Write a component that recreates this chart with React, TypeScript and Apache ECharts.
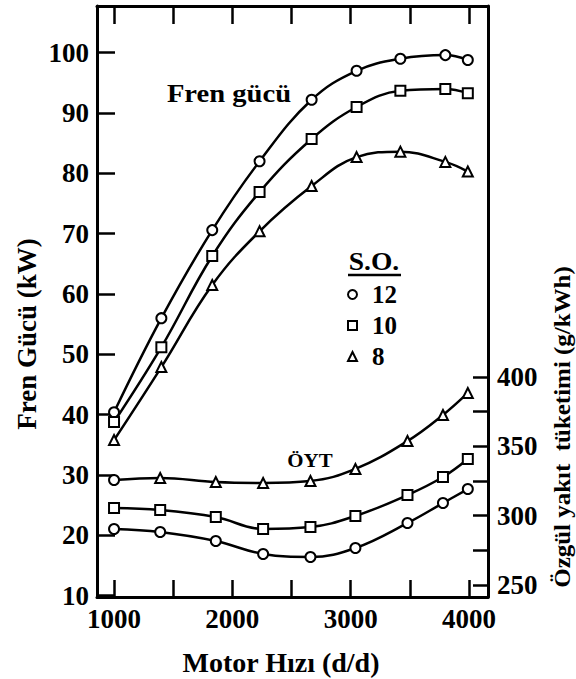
import React, { useEffect, useRef } from "react";
import * as echarts from "echarts";

// Motor speed (d/d) of the measured points
const rpmPower = [1000, 1400, 1830, 2230, 2670, 3050, 3420, 3800, 3990];
// Brake power (kW) for spark advance (S.O.) 12, 10, 8
const power12 = [40.4, 56.0, 70.6, 82.0, 92.2, 97.0, 99.0, 99.6, 98.8];
const power10 = [38.8, 51.2, 66.3, 76.9, 85.7, 91.0, 93.7, 94.0, 93.3];
const power8 = [35.8, 47.9, 61.5, 70.4, 77.9, 82.7, 83.6, 81.9, 80.3];

// Specific fuel consumption (g/kWh)
const rpmSfc = [1000, 1390, 1860, 2260, 2660, 3040, 3480, 3780, 3990];
const sfc8 = [325.7, 327.2, 324.3, 323.6, 325.0, 333.7, 353.8, 372.6, 388.5];
const sfc10 = [305.5, 304.1, 299.0, 290.4, 291.8, 299.8, 314.9, 327.9, 340.9];
const sfc12 = [290.4, 288.2, 281.7, 272.4, 270.2, 276.7, 294.7, 309.1, 319.2];

// Axis ticks / labels
const powerTicks = [10, 20, 30, 40, 50, 60, 70, 80, 90, 100];
const sfcTicks = [250, 275, 300, 325, 350, 375, 400];
const sfcLabels = [250, 300, 350, 400];
const rpmTicks = [1000, 1500, 2000, 2500, 3000, 3500, 4000];
const rpmLabels = [1000, 2000, 3000, 4000];

const legendNames = ["12", "10", "8"];
const legendIcons = ["circle", "rect", "triangle"];

const FONT = "'Liberation Serif', 'Times New Roman', serif";

function lineSeries(name: string, xs: number[], ys: number[], symbol: string, yAxisIndex: number, firstSymbol?: string) {
  return {
    type: "line",
    name,
    xAxisIndex: 0,
    yAxisIndex,
    smooth: 0.4,
    symbol,
    symbolSize: 10,
    lineStyle: { color: "#000", width: 2.5 },
    itemStyle: { color: "#fff", borderColor: "#000", borderWidth: 2 },
    data: xs.map((x, i) =>
      i === 0 && firstSymbol ? { value: [x, ys[i]], symbol: firstSymbol } : [x, ys[i]]
    ),
  };
}

function textEl(text: string, x: number, y: number, size: number, weight: string, extra: any = {}) {
  return {
    type: "text",
    x,
    y,
    ...extra,
    style: {
      text,
      fontFamily: FONT,
      fontWeight: weight,
      fontSize: size,
      fill: "#000",
      align: "center",
      verticalAlign: "middle",
      textAlign: "center",
      textVerticalAlign: "middle",
    },
  };
}

export default function App() {
  const ref = useRef<HTMLDivElement>(null);
  useEffect(() => {
    if (!ref.current) return;
    const chart = echarts.init(ref.current, null, { renderer: "svg" });
    const axisLabelStyle = { fontFamily: FONT, fontWeight: "bold", fontSize: 27, color: "#000", formatter: (v: number) => String(v) };
    const axisLine = { show: true, lineStyle: { color: "#000", width: 3 } };
    const tickStyle = { color: "#000", width: 2.5 };
    chart.setOption({
      animation: false,
      backgroundColor: "#fff",
      grid: { left: 97, right: 88, top: 6, bottom: 82, containLabel: false, outerBoundsMode: "none" },
      xAxis: [
        {
          type: "value",
          position: "bottom",
          min: 856,
          max: 4160.6,
          axisLine,
          axisTick: { show: true, inside: true, length: 17, lineStyle: tickStyle, customValues: rpmTicks },
          axisLabel: { ...axisLabelStyle, margin: 8, customValues: rpmLabels },
          splitLine: { show: false },
        },
        {
          type: "value",
          position: "top",
          min: 856,
          max: 4160.6,
          axisLine,
          axisTick: { show: true, inside: true, length: 18, lineStyle: tickStyle, customValues: rpmTicks },
          axisLabel: { show: false },
          splitLine: { show: false },
        },
      ],
      yAxis: [
        {
          type: "value",
          position: "left",
          min: 9.79,
          max: 107.74,
          axisLine,
          axisTick: { show: true, inside: true, length: 18, lineStyle: tickStyle, customValues: powerTicks },
          axisLabel: { ...axisLabelStyle, margin: 8, customValues: powerTicks },
          splitLine: { show: false },
        },
        {
          type: "value",
          position: "right",
          min: 241.35,
          max: 667.55,
          axisLine,
          axisTick: { show: true, inside: true, length: 15, lineStyle: tickStyle, customValues: sfcTicks },
          axisLabel: { ...axisLabelStyle, margin: 9, customValues: sfcLabels },
          splitLine: { show: false },
        },
      ],
      legend: {
        show: true,
        orient: "vertical",
        left: 347,
        top: 282,
        padding: 0,
        itemWidth: 9,
        itemHeight: 9,
        itemGap: 6,
        selectedMode: false,
        data: legendNames.map((n, i) => ({ name: n, icon: legendIcons[i] })),
        itemStyle: { color: "#fff", borderColor: "#000", borderWidth: 2 },
        textStyle: { fontFamily: FONT, fontWeight: "bold", fontSize: 25, color: "#000", padding: [0, 0, 0, 10] },
      },
      series: [
        lineSeries(legendNames[0], rpmPower, power12, "circle", 0),
        lineSeries(legendNames[1], rpmPower, power10, "rect", 0),
        lineSeries(legendNames[2], rpmPower, power8, "triangle", 0),
        lineSeries("ÖYT 12", rpmSfc, sfc12, "circle", 1),
        lineSeries("ÖYT 10", rpmSfc, sfc10, "rect", 1),
        lineSeries("ÖYT 8", rpmSfc, sfc8, "triangle", 1, "circle"),
      ],
      graphic: [
        textEl("Fren gücü", 229, 93, 26, "bold", { scaleX: 1.1 }),
        textEl("ÖYT", 310, 460, 19, "bold", { scaleX: 1.1 }),
        textEl("S.O.", 374, 262, 25, "bold", { scaleX: 1.1 }),
        {
          type: "line",
          shape: { x1: 348, y1: 275, x2: 401, y2: 275 },
          style: { stroke: "#000", lineWidth: 2.5 },
        },
        textEl("Fren Gücü (kW)", 27, 334, 27, "bold", { rotation: Math.PI / 2 }),
        textEl("Özgül yakıt  tüketimi (g/kWh)", 562, 427, 24, "bold", { rotation: Math.PI / 2, scaleX: 1.04 }),
        textEl("Motor Hızı (d/d)", 281, 662, 28, "bold"),
      ],
    });
    return () => chart.dispose();
  }, []);
  return <div ref={ref} style={{ position: "fixed", left: 0, top: 0, width: 576, height: 679 }} />;
}
